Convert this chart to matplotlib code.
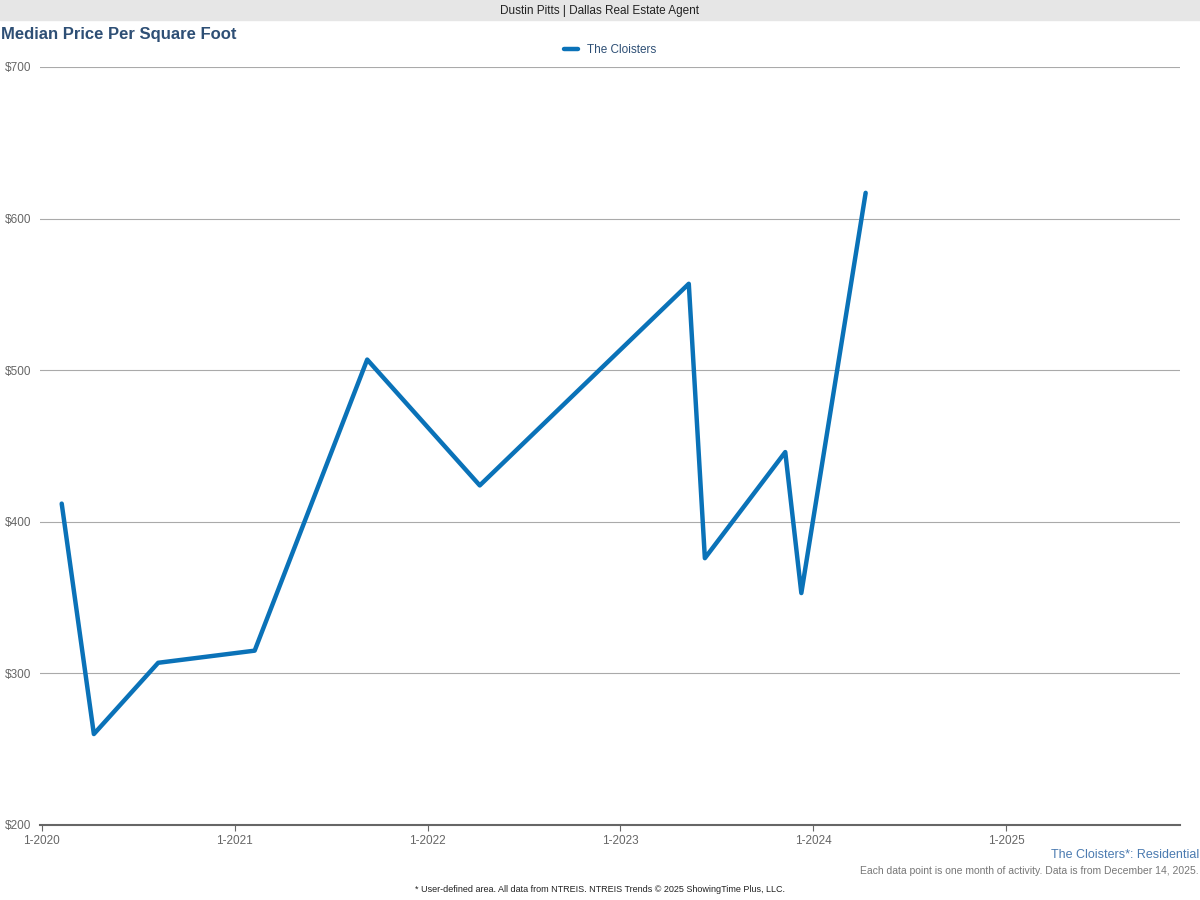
import matplotlib
matplotlib.use("Agg")
import matplotlib.pyplot as plt
from matplotlib.patches import Rectangle

months = [1, 3, 7, 13, 20, 27, 40, 41, 46, 47, 51]  # months since Jan 2020
values = [412, 260, 307, 315, 507, 424, 557, 376, 446, 353, 617]
tick_months = [0, 12, 24, 36, 48, 60]
tick_labels = ["1-2020", "1-2021", "1-2022", "1-2023", "1-2024", "1-2025"]
yticks = [200, 300, 400, 500, 600, 700]

plt.rcParams['font.family'] = ['Liberation Sans', 'DejaVu Sans']
fig = plt.figure(figsize=(12, 9), dpi=100)
fig.patches.append(Rectangle((0, 1 - 20/900), 1, 20/900, transform=fig.transFigure, color='#e6e6e6', zorder=0))
fig.text(0.5, 1 - 11/900, "Dustin Pitts | Dallas Real Estate Agent", ha='center', va='center', fontsize=8.5, color='#222')
fig.text(0.001, 1 - 35/900, "Median Price Per Square Foot", ha='left', va='center', fontsize=12, fontweight='bold', color='#2e4f75')

ax = fig.add_axes([40/1200, 1 - 825/900, 1140/1200, 758/900])
xs = [m + 0.25 for m in months]
ax.plot(xs, values, color='#0a72b8', lw=3.2, label='The Cloisters', solid_capstyle='round', solid_joinstyle='round')
ax.set_xlim(-0.1, 70.8)
ax.set_ylim(200, 700)
ax.set_yticks(yticks)
ax.set_yticklabels([f"${v}" for v in yticks], fontsize=8.5, color='#666')
ax.set_xticks(tick_months)
ax.set_xticklabels(tick_labels, fontsize=8.5, color='#666')
ax.grid(axis='y', color='#aaaaaa', lw=0.8)
ax.set_axisbelow(True)
for s in ['top', 'right', 'left']:
    ax.spines[s].set_visible(False)
ax.spines['bottom'].set_color('#666')
ax.spines['bottom'].set_linewidth(1.5)
ax.tick_params(axis='y', length=0, pad=6)
ax.tick_params(axis='x', length=4, color='#666')
ax.legend(loc='lower center', bbox_to_anchor=(0.5, 1.0), frameon=False, fontsize=8.5,
          handlelength=1.2, labelcolor='#2e4f75')

fig.text(0.999, 1 - 855/900, "The Cloisters*: Residential", ha='right', va='center', fontsize=9, color='#4a7ab0')
fig.text(0.999, 1 - 871/900, "Each data point is one month of activity. Data is from December 14, 2025.", ha='right', va='center', fontsize=7.5, color='#777')
fig.text(0.5, 1 - 889/900, "* User-defined area. All data from NTREIS. NTREIS Trends © 2025 ShowingTime Plus, LLC.", ha='center', va='center', fontsize=6.5, color='#222')
fig.savefig("out.png", dpi=100)
